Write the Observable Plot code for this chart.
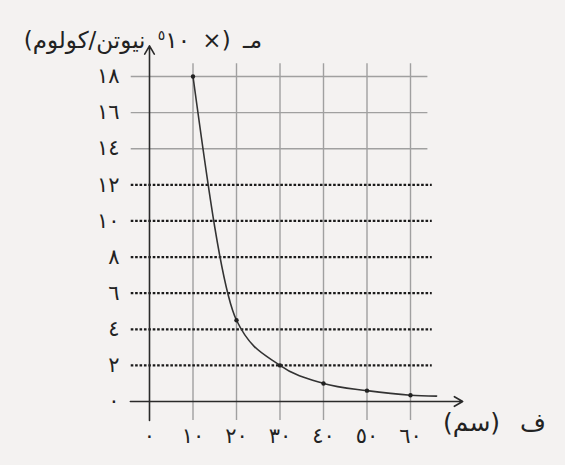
<!DOCTYPE html>
<html><head><meta charset="utf-8">
<script src="https://cdn.jsdelivr.net/npm/d3@7"></script>
<script src="https://cdn.jsdelivr.net/npm/@observablehq/plot@0.6"></script>
<style>
html,body{margin:0;padding:0;background:#f4f2f1;}
#wrap{position:relative;width:565px;height:465px;font-family:"DejaVu Sans",sans-serif;color:#222;}
#ytitle{position:absolute;right:303px;top:27px;font-size:23px;direction:rtl;white-space:nowrap;line-height:26px;word-spacing:5px;}
#ytitle sup{font-size:14px;vertical-align:8px;line-height:0;}
#xtitle{position:absolute;left:443px;top:409px;font-size:25px;direction:rtl;white-space:nowrap;line-height:28px;word-spacing:12px;}
.ticklab text{letter-spacing:5px;}
</style></head><body>
<div id="wrap"></div>
<script>
// Data
const distances = [10, 20, 30, 40, 50, 60];          // ف (سم)
const fields = [18, 4.5, 2, 1.0, 0.6, 0.35];          // مـ (×10^5 N/C)
const tailDistance = [66];
const tailField = [0.3];
const xTicks = [0, 10, 20, 30, 40, 50, 60];
const xTickLabels = ["٠", "١٠", "٢٠", "٣٠", "٤٠", "٥٠", "٦٠"];
const yTicks = [0, 2, 4, 6, 8, 10, 12, 14, 16, 18];
const yTickLabels = ["٠", "٢", "٤", "٦", "٨", "١٠", "١٢", "١٤", "١٦", "١٨"];
const dottedLevels = [2, 4, 6, 8, 10, 12];
const solidLevels = [14, 16, 18];
const gridDistances = [10, 20, 30, 40, 50, 60];
const yTitleHTML = "مـ (× ١٠\u200F<sup>٥</sup> نيوتن/كولوم)";
const xTitleText = "ف (سم)";

const points = distances.map((d, i) => ({x: d, y: fields[i]}));
const curvePts = points.concat(tailDistance.map((d, i) => ({x: d, y: tailField[i]})));
const yLab = yTicks.map((v, i) => ({v, t: yTickLabels[i]}));
const xLab = xTicks.map((v, i) => ({v, t: xTickLabels[i]}));

const chart = Plot.plot({
  width: 565,
  height: 465,
  marginLeft: 149,
  marginRight: 155,
  marginTop: 76,
  marginBottom: 64,
  style: {background: "transparent", fontFamily: "DejaVu Sans"},
  x: {domain: [0, 60], axis: null},
  y: {domain: [0, 18], axis: null},
  marks: [
    Plot.ruleX(gridDistances, {x: d => d, y1: -1.05, y2: 18.7, stroke: "#a0a0a0", strokeWidth: 1.4}),
    Plot.ruleY(solidLevels, {y: d => d, x1: -4.2, x2: 64, stroke: "#a0a0a0", strokeWidth: 1.4}),
    Plot.ruleY(dottedLevels, {y: d => d, x1: -4.2, x2: 65, stroke: "#1a1a1a", strokeWidth: 2.2, strokeDasharray: "2.6,1.8"}),
    Plot.arrow([0], {x1: 0, x2: 0, y1: -1.05, y2: 19.7, stroke: "#2a2a2a", strokeWidth: 1.6, headLength: 9}),
    Plot.arrow([0], {x1: -4.4, x2: 72, y1: 0, y2: 0, stroke: "#2a2a2a", strokeWidth: 1.6, headLength: 9}),
    Plot.line(curvePts, {x: "x", y: "y", curve: "monotone-x", stroke: "#333", strokeWidth: 1.6}),
    Plot.dot(points, {x: "x", y: "y", r: 2.2, fill: "#222", stroke: "none"}),
    Plot.text(yLab, {x: 0, y: "v", text: "t", dx: -30, textAnchor: "end", fontSize: 21, fill: "#222", className: "ticklab"}),
    Plot.text(xLab, {x: "v", y: 0, text: "t", dy: 35, fontSize: 21, fill: "#222", className: "ticklab"})
  ]
});
const wrap = document.getElementById("wrap");
wrap.appendChild(chart);
const yt = document.createElement("div");
yt.id = "ytitle";
yt.innerHTML = yTitleHTML;
wrap.appendChild(yt);
const xt = document.createElement("div");
xt.id = "xtitle";
xt.textContent = xTitleText;
wrap.appendChild(xt);
</script>
</body></html>
